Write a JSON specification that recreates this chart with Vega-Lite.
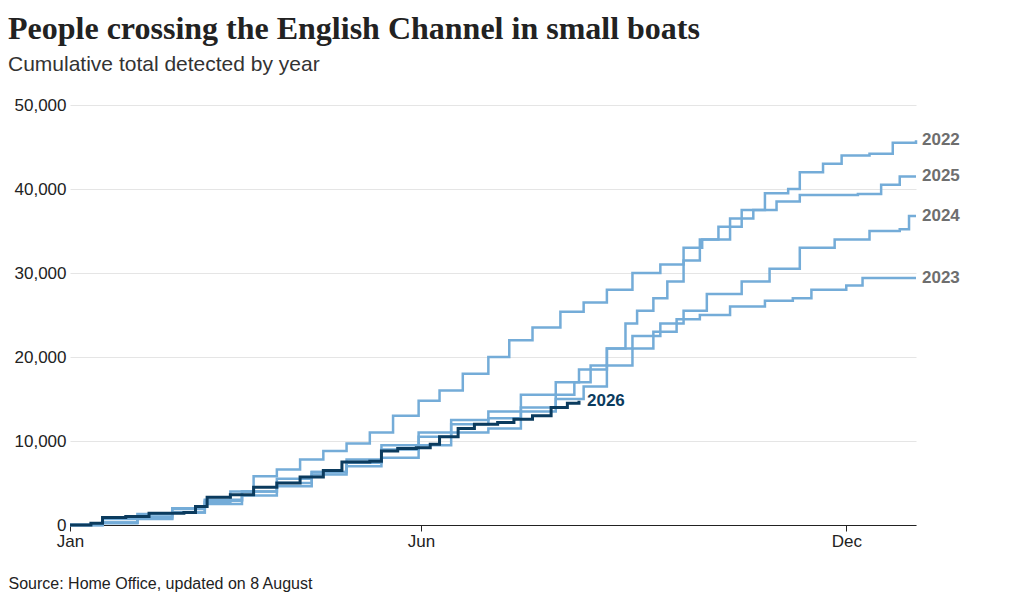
{
"$schema":"https://vega.github.io/schema/vega-lite/v6.json",
"width":846,"height":420,
"autosize":{"type":"none"},
"padding":{"left":70,"top":105,"right":104,"bottom":75},
"background":"white",
"title":{"text":"People crossing the English Channel in small boats","subtitle":"Cumulative total detected by year","anchor":"start","frame":"group","dx":-62,"offset":20,"font":"Liberation Serif","fontSize":32,"fontWeight":"bold","color":"#222","subtitleFont":"Liberation Sans","subtitleFontSize":21,"subtitleColor":"#333","subtitlePadding":8},
"config":{"view":{"stroke":null},"font":"Liberation Sans"},
"datasets":{
"lines":[
{"year":"2022","day":1,"value":0},{"year":"2022","day":15,"value":300},{"year":"2022","day":30,"value":1000},{"year":"2022","day":45,"value":1500},{"year":"2022","day":59,"value":2500},{"year":"2022","day":75,"value":4000},{"year":"2022","day":90,"value":4600},{"year":"2022","day":105,"value":6300},{"year":"2022","day":120,"value":7800},{"year":"2022","day":135,"value":9500},{"year":"2022","day":151,"value":11000},{"year":"2022","day":165,"value":12000},{"year":"2022","day":181,"value":12700},{"year":"2022","day":195,"value":14000},{"year":"2022","day":210,"value":15500},{"year":"2022","day":218,"value":17000},{"year":"2022","day":225,"value":19000},{"year":"2022","day":232,"value":21000},{"year":"2022","day":240,"value":24000},{"year":"2022","day":245,"value":25500},{"year":"2022","day":252,"value":27000},{"year":"2022","day":258,"value":29000},{"year":"2022","day":265,"value":31500},{"year":"2022","day":272,"value":34000},{"year":"2022","day":280,"value":35500},{"year":"2022","day":290,"value":37500},{"year":"2022","day":300,"value":39500},{"year":"2022","day":310,"value":40000},{"year":"2022","day":315,"value":42000},{"year":"2022","day":325,"value":43000},{"year":"2022","day":333,"value":44000},{"year":"2022","day":345,"value":44200},{"year":"2022","day":355,"value":45500},{"year":"2022","day":365,"value":45800},
{"year":"2023","day":1,"value":0},{"year":"2023","day":15,"value":200},{"year":"2023","day":30,"value":700},{"year":"2023","day":45,"value":1500},{"year":"2023","day":59,"value":3000},{"year":"2023","day":75,"value":3500},{"year":"2023","day":90,"value":5000},{"year":"2023","day":105,"value":6000},{"year":"2023","day":120,"value":7000},{"year":"2023","day":135,"value":8000},{"year":"2023","day":151,"value":9500},{"year":"2023","day":165,"value":11000},{"year":"2023","day":181,"value":11500},{"year":"2023","day":195,"value":13500},{"year":"2023","day":210,"value":15000},{"year":"2023","day":222,"value":16500},{"year":"2023","day":232,"value":19000},{"year":"2023","day":243,"value":21000},{"year":"2023","day":252,"value":23000},{"year":"2023","day":262,"value":24500},{"year":"2023","day":272,"value":25000},{"year":"2023","day":285,"value":26000},{"year":"2023","day":300,"value":26700},{"year":"2023","day":312,"value":27000},{"year":"2023","day":320,"value":28000},{"year":"2023","day":335,"value":28500},{"year":"2023","day":342,"value":29400},{"year":"2023","day":365,"value":29400},
{"year":"2024","day":1,"value":0},{"year":"2024","day":15,"value":300},{"year":"2024","day":30,"value":800},{"year":"2024","day":45,"value":1900},{"year":"2024","day":59,"value":2900},{"year":"2024","day":75,"value":4000},{"year":"2024","day":90,"value":5500},{"year":"2024","day":105,"value":6300},{"year":"2024","day":120,"value":7400},{"year":"2024","day":135,"value":9000},{"year":"2024","day":151,"value":10500},{"year":"2024","day":165,"value":12500},{"year":"2024","day":181,"value":13500},{"year":"2024","day":195,"value":15500},{"year":"2024","day":210,"value":17000},{"year":"2024","day":220,"value":18500},{"year":"2024","day":232,"value":21000},{"year":"2024","day":243,"value":22500},{"year":"2024","day":255,"value":24000},{"year":"2024","day":265,"value":25500},{"year":"2024","day":275,"value":27500},{"year":"2024","day":290,"value":29000},{"year":"2024","day":302,"value":30500},{"year":"2024","day":315,"value":33000},{"year":"2024","day":330,"value":34000},{"year":"2024","day":345,"value":35000},{"year":"2024","day":358,"value":35200},{"year":"2024","day":362,"value":36800},{"year":"2024","day":365,"value":36800},
{"year":"2025","day":1,"value":0},{"year":"2025","day":15,"value":700},{"year":"2025","day":30,"value":1300},{"year":"2025","day":45,"value":2000},{"year":"2025","day":59,"value":2700},{"year":"2025","day":70,"value":4000},{"year":"2025","day":80,"value":5800},{"year":"2025","day":90,"value":6600},{"year":"2025","day":100,"value":7800},{"year":"2025","day":110,"value":8800},{"year":"2025","day":120,"value":9700},{"year":"2025","day":130,"value":11000},{"year":"2025","day":140,"value":13000},{"year":"2025","day":151,"value":14800},{"year":"2025","day":160,"value":16000},{"year":"2025","day":170,"value":18000},{"year":"2025","day":181,"value":20000},{"year":"2025","day":190,"value":22000},{"year":"2025","day":200,"value":23500},{"year":"2025","day":212,"value":25400},{"year":"2025","day":222,"value":26500},{"year":"2025","day":232,"value":28000},{"year":"2025","day":243,"value":30000},{"year":"2025","day":255,"value":31000},{"year":"2025","day":265,"value":33000},{"year":"2025","day":273,"value":34000},{"year":"2025","day":285,"value":36500},{"year":"2025","day":295,"value":37500},{"year":"2025","day":305,"value":38500},{"year":"2025","day":315,"value":39300},{"year":"2025","day":340,"value":39400},{"year":"2025","day":350,"value":40500},{"year":"2025","day":358,"value":41500},{"year":"2025","day":365,"value":41500}
],
"current":[
{"year":"2026","day":1,"value":0},{"year":"2026","day":10,"value":200},{"year":"2026","day":15,"value":900},{"year":"2026","day":25,"value":1000},{"year":"2026","day":35,"value":1400},{"year":"2026","day":50,"value":1500},{"year":"2026","day":55,"value":2200},{"year":"2026","day":60,"value":3300},{"year":"2026","day":70,"value":3600},{"year":"2026","day":80,"value":4500},{"year":"2026","day":90,"value":5000},{"year":"2026","day":100,"value":5700},{"year":"2026","day":110,"value":6500},{"year":"2026","day":118,"value":7500},{"year":"2026","day":130,"value":7600},{"year":"2026","day":135,"value":8800},{"year":"2026","day":142,"value":9100},{"year":"2026","day":150,"value":9200},{"year":"2026","day":156,"value":9600},{"year":"2026","day":160,"value":10500},{"year":"2026","day":168,"value":11500},{"year":"2026","day":175,"value":12000},{"year":"2026","day":185,"value":12200},{"year":"2026","day":192,"value":12600},{"year":"2026","day":200,"value":13000},{"year":"2026","day":208,"value":14000},{"year":"2026","day":215,"value":14500},{"year":"2026","day":220,"value":14800}
],
"labels":[
{"year":"2022","day":365,"value":45800},{"year":"2023","day":365,"value":29400},{"year":"2024","day":365,"value":36800},{"year":"2025","day":365,"value":41500}
],
"currentLabel":[{"year":"2026","day":220,"value":14800}]
},
"encoding":{
"x":{"field":"day","type":"quantitative","scale":{"domain":[1,365],"nice":false,"zero":false},
"axis":{"values":[1,152,335],"labelExpr":"datum.value==1?'Jan':datum.value==152?'Jun':'Dec'","labelFontSize":17,"labelColor":"#222","domainColor":"#222","tickColor":"#222","tickSize":6,"labelPadding":2,"grid":false,"labelFlush":false,
"title":"Source: Home Office, updated on 8 August","titleAnchor":"start","titleAlign":"left","titleX":-62,"titleY":50,"titleFontSize":16,"titleFontWeight":"normal","titleColor":"#222"}},
"y":{"field":"value","type":"quantitative","scale":{"domain":[0,50000]},
"axis":{"values":[0,10000,20000,30000,40000,50000],"labelExpr":"format(datum.value, ',')","labelFontSize":17,"labelColor":"#222","domain":false,"ticks":false,"gridColor":"#e5e5e5","labelPadding":4,"title":null}}
},
"layer":[
{"data":{"name":"lines"},"mark":{"type":"line","interpolate":"step-after","strokeWidth":2.5,"color":"#74acd8"},"encoding":{"detail":{"field":"year"}}},
{"data":{"name":"current"},"mark":{"type":"line","interpolate":"step-after","strokeWidth":3,"color":"#0b3b5e"},"encoding":{}},
{"data":{"name":"labels"},"mark":{"type":"text","align":"left","dx":6,"fontSize":17,"fontWeight":"bold","color":"#6e6e6e"},"encoding":{"text":{"field":"year"}}},
{"data":{"name":"currentLabel"},"mark":{"type":"text","align":"left","dx":8,"fontSize":17,"fontWeight":"bold","color":"#0b3b5e"},"encoding":{"text":{"field":"year"}}}
]
}
